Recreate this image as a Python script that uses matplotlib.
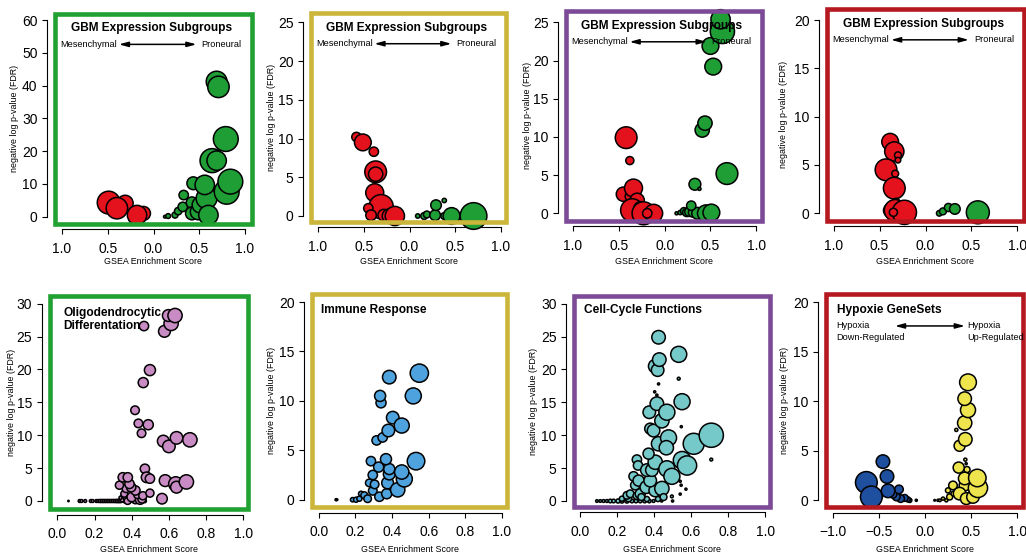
import matplotlib
matplotlib.use('Agg')
import matplotlib.pyplot as plt
from matplotlib.patches import Rectangle

plt.rcParams['font.family'] = ['Liberation Sans', 'DejaVu Sans']

W, H, DPI = 1026, 554, 100
fig = plt.figure(figsize=(W / DPI, H / DPI), dpi=DPI)

# ---------------- colours ----------------
C_RED = '#E3121C'
C_GREEN = '#1F9E35'
C_PINK = '#C98BC4'
C_BLUE = '#4EA3DE'
C_CYAN = '#75C9C9'
C_DBLUE = '#1F4F9F'
C_YELLOW = '#EEE54E'
F_GREEN = '#21A132'
F_YELLOW = '#CBB53A'
F_PURPLE = '#7D4A98'
F_RED = '#B5191F'

# ---------------- labels ----------------
XLABEL = 'GSEA Enrichment Score'
YLABEL = 'negative log p-value (FDR)'
TITLE_GBM = 'GBM Expression Subgroups'
MES, PRO = 'Mesenchymal', 'Proneural'

top_xticks = [-1.0, -0.5, 0.0, 0.5, 1.0]
top_xticklabels = ['1.0', '0.5', '0.0', '0.5', '1.0']
bot_xticks = [0.0, 0.2, 0.4, 0.6, 0.8, 1.0]
bot_xticklabels = ['0.0', '0.2', '0.4', '0.6', '0.8', '1.0']
hyp_xticks = [-1.0, -0.5, 0.0, 0.5, 1.0]
hyp_xticklabels = ['\u22121.0', '\u22120.5', '0.0', '0.5', '1.0']

# ---------------- data: panel 1 (bubble radius in px) ----------------
p1_mes_x = [-0.31, -0.11, -0.49, -0.40, -0.18]
p1_mes_y = [4.1, 1.0, 4.3, 2.6, 0.5]
p1_mes_r = [8.3, 7.3, 11.7, 11.0, 10.0]
p1_pro_x = [0.125, 0.16, 0.235, 0.27, 0.32, 0.33, 0.42, 0.42, 0.435, 0.49, 0.51, 0.58,
            0.56, 0.60, 0.64, 0.69, 0.80, 0.84, 0.79, 0.69, 0.71]
p1_pro_y = [0.0, 0.2, 0.5, 1.7, 3.0, 6.6, 4.3, 1.0, 10.2, 1.5, 3.6, 5.6,
            9.7, 0.5, 17.1, 17.1, 7.6, 10.7, 23.7, 41.2, 39.6]
p1_pro_r = [1.7, 2.7, 3.3, 4.0, 5.0, 5.0, 6.0, 6.7, 6.7, 8.3, 8.3, 10.7,
            10.0, 10.0, 12.3, 10.0, 12.7, 12.7, 12.7, 10.7, 11.0]

# ---------------- data: panel 2 (size units) ----------------
p2_mes_x = [-0.58, -0.51, -0.39, -0.37, -0.37, -0.38, -0.31, -0.45, -0.42, -0.28, -0.22, -0.16]
p2_mes_y = [10.2, 9.5, 8.3, 5.7, 5.4, 3.0, 1.2, 1.0, 0.1, 0.1, 0.0, 0.0]
p2_mes_r = [4, 7, 4, 9, 6, 7.5, 10, 4, 4.5, 5, 6, 8]
p2_pro_x = [0.09, 0.16, 0.19, 0.28, 0.29, 0.38, 0.38, 0.46, 0.70]
p2_pro_y = [0.0, 0.0, 0.2, 0.1, 1.4, 2.0, 0.0, 0.0, 0.0]
p2_pro_r = [2, 3, 3, 4.5, 4.5, 2, 3, 7, 11]

# ---------------- data: panel 3 ----------------
p3_mes_x = [-0.45, -0.38, -0.34, -0.30, -0.355, -0.26, -0.23, -0.12, -0.19, -0.42, -0.38]
p3_mes_y = [2.5, 2.2, 3.3, 1.7, 0.4, 0.6, 0.0, 0.0, 0.0, 9.9, 6.9]
p3_mes_r = [6, 4, 7.5, 6, 9.5, 6, 9.5, 7.5, 4, 9, 3.5]
p3_pro_x = [0.13, 0.17, 0.21, 0.24, 0.27, 0.31, 0.36, 0.29, 0.33, 0.38, 0.45, 0.51,
            0.41, 0.44, 0.68, 0.53, 0.50, 0.63, 0.61]
p3_pro_y = [0.0, 0.1, 0.3, 0.1, 0.2, 0.1, 0.0, 1.0, 3.8, 3.2, 0.0, 0.1,
            10.9, 11.8, 5.2, 19.2, 21.9, 23.8, 25.4]
p3_pro_r = [1.5, 2, 3, 3.5, 4, 4, 5, 4, 5, 1.5, 7, 7,
            6, 6, 9, 7, 7, 10, 8]

# ---------------- data: panel 4 ----------------
p4_mes_x = [-0.385, -0.34, -0.30, -0.30, -0.43, -0.33, -0.34, -0.32, -0.38, -0.33, -0.23, -0.35]
p4_mes_y = [7.4, 6.4, 6.0, 5.5, 4.5, 4.1, 2.6, 1.2, 0.3, 0.3, 0.1, 0.1]
p4_mes_r = [7, 8, 3, 2.5, 9, 3, 9, 3, 6, 9, 10, 3.5]
p4_pro_x = [0.15, 0.19, 0.25, 0.32, 0.57]
p4_pro_y = [0.0, 0.2, 0.6, 0.45, 0.1]
p4_pro_r = [2.5, 3, 3.5, 4.5, 9.5]

# ---------------- data: panel 5 (Oligodendrocytic) ----------------
p5_x = [0.06, 0.12, 0.13, 0.15, 0.18, 0.19, 0.21, 0.22, 0.23, 0.24, 0.25, 0.26, 0.27, 0.28,
        0.29, 0.30, 0.31, 0.32, 0.33, 0.34, 0.36, 0.39, 0.41, 0.44, 0.47,
        0.35, 0.34, 0.355, 0.37, 0.378, 0.42, 0.36, 0.40, 0.445, 0.455, 0.43, 0.46,
        0.498, 0.563, 0.37, 0.42, 0.397, 0.388, 0.334, 0.352, 0.379,
        0.471, 0.48, 0.498, 0.58, 0.637, 0.641, 0.694,
        0.453, 0.436, 0.489, 0.418, 0.57, 0.60, 0.641, 0.713,
        0.462, 0.498, 0.466, 0.576, 0.612, 0.597, 0.633]
p5_y = [0.0, 0.0, 0.0, 0.0, 0.0, 0.0, 0.0, 0.0, 0.0, 0.0, 0.0, 0.0, 0.0, 0.0,
        0.0, 0.0, 0.0, 0.0, 0.0, 0.0, 0.0, 0.0, 0.0, 0.0, 0.0,
        0.2, 0.5, 0.9, 0.4, 0.0, 0.1, 1.1, 0.6, 0.2, 0.3, 0.9, 0.8,
        1.2, 0.35, 1.9, 1.6, 2.1, 2.6, 2.4, 3.6, 3.6,
        4.9, 3.6, 3.4, 3.1, 2.6, 2.1, 2.9,
        10.3, 11.8, 11.6, 13.8, 9.1, 8.3, 9.6, 9.3,
        18.0, 19.9, 26.6, 25.8, 27.0, 28.2, 28.2]
p5_r = [0.8, 1.4, 1.4, 1.4, 1.4, 1.4, 1.4, 1.4, 1.5, 1.5, 1.5, 1.5, 1.5, 1.5,
        1.5, 1.5, 1.5, 1.6, 1.6, 1.6, 1.6, 1.6, 1.6, 1.6, 1.6,
        2.0, 1.5, 2.0, 2.5, 3.0, 3.0, 3.0, 4.0, 4.0, 3.5, 3.0, 3.5,
        3.5, 4.5, 3.5, 4.0, 4.0, 4.0, 3.5, 4.0, 4.0,
        4.0, 4.5, 4.0, 5.0, 6.0, 5.0, 6.0,
        3.7, 3.7, 4.3, 3.7, 5.0, 5.3, 5.3, 6.0,
        4.3, 4.7, 4.0, 5.0, 6.0, 5.0, 6.0]

# ---------------- data: panel 6 (Immune Response) ----------------
p6_x = [0.095, 0.10, 0.185, 0.204, 0.222, 0.231, 0.249, 0.267, 0.276, 0.295, 0.305, 0.331,
        0.295, 0.285, 0.327, 0.316, 0.349, 0.371, 0.376, 0.385, 0.385, 0.367, 0.38, 0.404,
        0.34, 0.335, 0.385, 0.431, 0.467, 0.453, 0.453, 0.516, 0.531, 0.549]
p6_y = [0.0, 0.0, 0.0, 0.0, 0.1, 0.6, 0.45, 0.1, 1.7, 0.9, 1.55, 0.3,
        2.5, 3.9, 3.3, 6.0, 6.3, 0.6, 1.7, 2.6, 3.1, 4.1, 7.0, 8.3,
        9.8, 10.5, 12.4, 1.0, 2.1, 2.8, 7.5, 10.5, 3.9, 12.8]
p6_r = [1.1, 0.9, 2.0, 2.3, 2.3, 2.3, 3.0, 3.3, 3.3, 3.7, 3.7, 4.0,
        4.0, 4.0, 4.3, 4.0, 4.0, 4.3, 5.0, 5.0, 4.7, 4.7, 5.3, 5.3,
        4.3, 4.7, 5.7, 6.0, 6.7, 6.0, 6.3, 6.7, 7.3, 7.6]

# ---------------- data: panel 7 (Cell-Cycle) ----------------
p7_x = [0.09, 0.108, 0.126, 0.144, 0.162, 0.18, 0.204, 0.225, 0.252, 0.279, 0.301, 0.324,
        0.348, 0.373, 0.396,
        0.225, 0.261, 0.252, 0.27, 0.306, 0.324, 0.297, 0.288, 0.315, 0.306, 0.312,
        0.357, 0.405, 0.441, 0.378, 0.36, 0.387, 0.405, 0.369, 0.378, 0.396, 0.373,
        0.414, 0.402, 0.414, 0.423, 0.405, 0.418, 0.427, 0.423, 0.532, 0.532, 0.441,
        0.468, 0.546, 0.55, 0.423, 0.477, 0.465, 0.468, 0.495, 0.55, 0.577, 0.613,
        0.708, 0.708, 0.54, 0.545, 0.571, 0.54, 0.495, 0.44, 0.499, 0.36, 0.33, 0.42, 0.45]
p7_y = [0.0, 0.0, 0.0, 0.0, 0.0, 0.0, 0.0, 0.0, 0.0, 0.0, 0.0, 0.0,
        0.0, 0.0, 0.0,
        0.35, 0.35, 0.86, 1.1, 0.8, 1.1, 2.4, 3.75, 3.1, 6.3, 5.4,
        2.1, 1.6, 1.9, 3.1, 4.7, 4.7, 5.9, 7.2, 11.0, 10.7, 13.5,
        14.8, 16.6, 16.1, 17.8, 20.5, 19.9, 21.5, 24.9, 22.3, 18.6, 12.2,
        13.5, 11.3, 15.1, 8.7, 9.6, 8.1, 4.9, 3.75, 6.2, 5.4, 8.7,
        10.0, 6.3, 3.0, 2.4, 1.8, 1.05, 0.7, 0.0, 0.0, 0.3, 0.6, 0.3, 0.6]
p7_r = [1.3, 1.3, 1.4, 1.4, 1.7, 1.7, 1.9, 1.9, 1.9, 1.7, 1.7, 1.7,
        1.7, 1.7, 1.4,
        2.3, 2.7, 3.3, 3.3, 3.3, 4.3, 4.0, 4.0, 4.7, 4.0, 4.0,
        5.3, 5.3, 6.0, 5.3, 5.3, 5.3, 6.0, 4.7, 4.7, 5.3, 5.3,
        5.7, 1.1, 1.1, 1.1, 5.7, 5.3, 5.7, 5.7, 6.7, 1.4, 6.0,
        6.7, 1.1, 6.7, 6.0, 6.7, 6.0, 6.7, 6.7, 7.3, 8.0, 8.7,
        10.0, 1.4, 1.1, 1.1, 1.1, 1.1, 1.4, 1.1, 1.1, 2.3, 3.0, 2.3, 3.0]

# ---------------- data: panel 8 (Hypoxia) ----------------
p8_dn_x = [-0.096, -0.168, -0.19, -0.222, -0.266, -0.313, -0.349, -0.284, -0.51,
           -0.403, -0.414, -0.458, -0.638, -0.584]
p8_dn_y = [0.0, 0.0, 0.1, 0.24, 0.17, 0.34, 0.6, 1.1, 0.5, 0.95, 2.4, 3.9, 1.8, 0.34]
p8_dn_r = [1.1, 2.0, 2.3, 3.0, 3.3, 3.3, 3.3, 3.7, 4.0, 5.7, 5.7, 5.7, 9.0, 9.0]
p8_up_x = [0.103, 0.139, 0.16, 0.194, 0.23, 0.266, 0.248, 0.309, 0.302, 0.338, 0.436, 0.445,
           0.454, 0.364, 0.429, 0.374, 0.447, 0.429, 0.374, 0.436, 0.429, 0.465, 0.429,
           0.465, 0.519, 0.573, 0.566]
p8_up_y = [0.0, 0.0, 0.0, 0.17, 0.0, 0.34, 1.0, 0.67, 1.5, 7.1, 4.1, 3.7,
           3.1, 3.3, 1.5, 0.67, 0.17, 2.2, 5.5, 6.15, 7.8, 9.1, 10.25,
           11.9, 0.34, 1.25, 2.25]
p8_up_r = [0.9, 1.1, 1.3, 1.5, 1.5, 2.7, 2.3, 2.3, 3.7, 1.5, 1.5, 1.1,
           2.7, 4.7, 4.7, 5.3, 5.0, 5.3, 4.7, 5.7, 6.0, 6.3, 5.7,
           7.0, 5.3, 8.0, 7.3]

SIZE_SCALE = 1.24   # size units -> pixel radius (panels 2-8)


def panel(box, xt, xp, yt, yp, xticks, xticklabels, yticks, fcolor, xlab_y, ylab_x):
    L, R, T, B = box
    ax = fig.add_axes([L / W, 1 - B / H, (R - L) / W, (B - T) / H])
    ppx = (xp[1] - xp[0]) / (xt[1] - xt[0])
    ax.set_xlim(xt[0] - (xp[0] - L) / ppx, xt[1] + (R - xp[1]) / ppx)
    ppy = (yp[0] - yp[1]) / (yt[1] - yt[0])
    ax.set_ylim(yt[0] - (B - yp[0]) / ppy, yt[1] + (yp[1] - T) / ppy)
    ax.set_xticks(xticks)
    ax.set_xticklabels(xticklabels, fontsize=7.6)
    ax.set_yticks(yticks)
    ax.set_yticklabels([str(v) for v in yticks], fontsize=7.6, rotation=90, va='center')
    for s in ['top', 'right']:
        ax.spines[s].set_visible(False)
    ax.spines['bottom'].set_position(('outward', 5.5 * 0.72))
    ax.spines['left'].set_position(('outward', 8 * 0.72))
    ax.spines['bottom'].set_bounds(xticks[0], xticks[-1])
    ax.spines['left'].set_bounds(yticks[0], yticks[-1])
    for s in ['bottom', 'left']:
        ax.spines[s].set_linewidth(0.8)
    ax.tick_params(axis='x', length=3.6, width=0.8, pad=5.5)
    ax.tick_params(axis='y', length=3.6, width=0.8, pad=3.2)
    ax.add_patch(Rectangle((0, 0), 1, 1, transform=ax.transAxes, fill=False,
                           ec=fcolor, lw=3.3, clip_on=False, zorder=6))
    ax.set_xlabel(XLABEL, fontsize=6.4)
    ax.xaxis.set_label_coords(0.5, (B - xlab_y) / (B - T))
    ax.xaxis.label.set_va('center')
    ax.set_ylabel(YLABEL, fontsize=6.4)
    ax.yaxis.set_label_coords((ylab_x - L) / (R - L), 0.5)
    ax.yaxis.label.set_va('center')
    return ax


def bubbles(ax, x, y, r, color, scale=SIZE_SCALE):
    ax.scatter(x, y, s=[(2 * max(ri * scale - 0.3, 0.6) * 0.72) ** 2 for ri in r], c=color,
               edgecolors='black', linewidths=1.1, clip_on=False, zorder=3)


def arrow(ax, x0, x1, y):
    ax.annotate('', xy=(x1, y), xytext=(x0, y), xycoords='axes fraction',
                textcoords='axes fraction', zorder=7,
                arrowprops=dict(arrowstyle='<|-|>,head_length=0.55,head_width=0.15',
                                color='black', lw=1.1, shrinkA=0, shrinkB=0))


def gbm_text(ax):
    ax.text(0.49, 0.93, TITLE_GBM, transform=ax.transAxes, ha='center', va='center',
            fontsize=8.6, fontweight='bold', zorder=7)
    ax.text(0.025, 0.853, MES, transform=ax.transAxes, ha='left', va='center',
            fontsize=6.6, zorder=7)
    ax.text(0.95, 0.853, PRO, transform=ax.transAxes, ha='right', va='center',
            fontsize=6.6, zorder=7)
    arrow(ax, 0.325, 0.72, 0.853)


# ---------------- top row ----------------
ax1 = panel((55, 251.5, 13.5, 223.5), (-1, 1), (62, 245), (0, 60), (216.7, 20),
            top_xticks, top_xticklabels, [0, 10, 20, 30, 40, 50, 60], F_GREEN, 262, 15)
bubbles(ax1, p1_mes_x, p1_mes_y, p1_mes_r, C_RED, scale=1.0)
bubbles(ax1, p1_pro_x, p1_pro_y, p1_pro_r, C_GREEN, scale=1.0)
gbm_text(ax1)

ax2 = panel((311, 506, 13, 222), (-1, 1), (318, 501), (0, 25), (216, 22.3),
            top_xticks, top_xticklabels, [0, 5, 10, 15, 20, 25], F_YELLOW, 262, 271)
bubbles(ax2, p2_mes_x, p2_mes_y, p2_mes_r, C_RED)
bubbles(ax2, p2_pro_x, p2_pro_y, p2_pro_r, C_GREEN)
gbm_text(ax2)

ax3 = panel((566, 761.5, 11, 220.5), (-1, 1), (573, 756.3), (0, 25), (213.3, 22.3),
            top_xticks, top_xticklabels, [0, 5, 10, 15, 20, 25], F_PURPLE, 262, 527)
bubbles(ax3, p3_mes_x, p3_mes_y, p3_mes_r, C_RED)
bubbles(ax3, p3_pro_x, p3_pro_y, p3_pro_r, C_GREEN)
gbm_text(ax3)

ax4 = panel((827, 1024, 8.7, 220.5), (-1, 1), (833.7, 1017.3), (0, 20), (213.3, 20),
            top_xticks, top_xticklabels, [0, 5, 10, 15, 20], F_RED, 262, 783)
bubbles(ax4, p4_mes_x, p4_mes_y, p4_mes_r, C_RED)
bubbles(ax4, p4_pro_x, p4_pro_y, p4_pro_r, C_GREEN)
gbm_text(ax4)

# ---------------- bottom row ----------------
ax5 = panel((49.7, 248, 296, 509), (0, 1), (57.3, 243.3), (0, 30), (501, 303.7),
            bot_xticks, bot_xticklabels, [0, 5, 10, 15, 20, 25, 30], F_GREEN, 549.7, 11.7)
bubbles(ax5, p5_x, p5_y, p5_r, C_PINK)
ax5.text(0.07, 0.922, 'Oligodendrocytic', transform=ax5.transAxes, ha='left', va='center',
         fontsize=8.6, fontweight='bold', zorder=7)
ax5.text(0.07, 0.859, 'Differentation', transform=ax5.transAxes, ha='left', va='center',
         fontsize=8.6, fontweight='bold', zorder=7)

ax6 = panel((312, 507.5, 294, 507), (0, 1), (318.7, 502), (0, 20), (499.7, 302),
            bot_xticks, bot_xticklabels, [0, 5, 10, 15, 20], F_YELLOW, 549.7, 271)
bubbles(ax6, p6_x, p6_y, p6_r, C_BLUE)
ax6.text(0.046, 0.925, 'Immune Response', transform=ax6.transAxes, ha='left', va='center',
         fontsize=8.6, fontweight='bold', zorder=7)

ax7 = panel((574, 770, 295.7, 506.5), (0, 1), (580.3, 765.3), (0, 30), (501, 303.7),
            bot_xticks, bot_xticklabels, [0, 5, 10, 15, 20, 25, 30], F_PURPLE, 549.7, 533.7)
bubbles(ax7, p7_x, p7_y, p7_r, C_CYAN)
ax7.text(0.05, 0.932, 'Cell-Cycle Functions', transform=ax7.transAxes, ha='left', va='center',
         fontsize=8.6, fontweight='bold', zorder=7)

ax8 = panel((826, 1023, 294, 507), (-1, 1), (833, 1017.3), (0, 20), (500.3, 302),
            hyp_xticks, hyp_xticklabels, [0, 5, 10, 15, 20], F_RED, 549.7, 784.7)
bubbles(ax8, p8_dn_x, p8_dn_y, p8_dn_r, C_DBLUE)
bubbles(ax8, p8_up_x, p8_up_y, p8_up_r, C_YELLOW)
ax8.text(0.056, 0.925, 'Hypoxie GeneSets', transform=ax8.transAxes, ha='left', va='center',
         fontsize=8.6, fontweight='bold', zorder=7)
for (tx, line1, line2) in [(0.05, 'Hypoxia', 'Down-Regulated'), (0.716, 'Hypoxia', 'Up-Regulated')]:
    ax8.text(tx, 0.85, line1, transform=ax8.transAxes, ha='left', va='center',
             fontsize=6.6, zorder=7)
    ax8.text(tx, 0.798, line2, transform=ax8.transAxes, ha='left', va='center',
             fontsize=6.6, zorder=7)
arrow(ax8, 0.35, 0.705, 0.85)

fig.savefig('out.png', dpi=DPI, facecolor='white')
